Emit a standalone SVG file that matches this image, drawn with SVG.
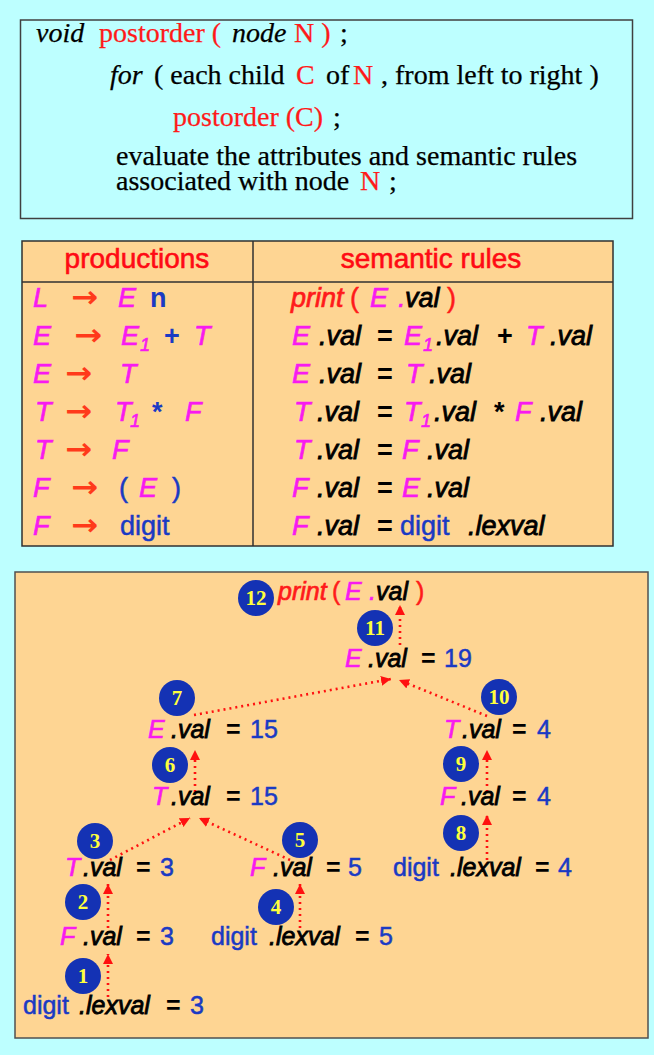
<svg xmlns="http://www.w3.org/2000/svg" width="654" height="1055" viewBox="0 0 654 1055">
<defs>
<style>
.serif{font-family:"Liberation Serif","Times New Roman",serif;font-size:28px;fill:#000;stroke:#000;stroke-width:0.25}
.serif .red{fill:#FF1A1A;stroke:#FF1A1A}
.sans{font-family:"Liberation Sans",Arial,sans-serif}
.hdr{font-size:28px;fill:#FF0A14;stroke:#FF0A14;stroke-width:0.6}
.tb{font-size:27px}
.tr{font-size:25px}
.m{fill:#F81AF0;stroke:#F81AF0;stroke-width:0.7;font-style:italic}
.k{fill:#000;stroke:#000;stroke-width:0.8;font-style:italic}
.eq{fill:#000;font-weight:bold}
.bl{fill:#1A3AC4;stroke:#1A3AC4;stroke-width:0.5}
.bb{fill:#1A3AC4;font-weight:bold}
.rd{fill:#FF1A1A;stroke:#FF1A1A;stroke-width:0.5}
.ri{fill:#FF1A1A;stroke:#FF1A1A;stroke-width:0.7;font-style:italic}
.ar{fill:#FF3A1A;font-family:"DejaVu Sans",sans-serif;font-size:30px;font-weight:bold}
.sub{font-size:18px}
.c{fill:#1432B4}
.n{font-family:"Liberation Serif","Times New Roman",serif;font-weight:bold;font-size:21px;fill:#FFFF3C;text-anchor:middle}
.dl{stroke:#FF1010;stroke-width:2.6;stroke-dasharray:2 4;fill:none;marker-end:url(#ah)}
</style>
<marker id="ah" markerUnits="userSpaceOnUse" markerWidth="12" markerHeight="12" refX="10" refY="5" orient="auto">
<path d="M0,0 L10,5 L0,10 z" fill="#FF1010"/>
</marker>
</defs>
<rect x="0" y="0" width="654" height="1055" fill="#BDFFFF"/>

<g id="algorithm">
<rect x="20.5" y="20" width="612" height="198.5" fill="#BDFFFF" stroke="#404040" stroke-width="1.5"/>
<text class="serif" y="42"><tspan x="36" font-style="italic">void</tspan><tspan class="red" x="99">postorder (</tspan><tspan x="232" font-style="italic">node</tspan><tspan class="red" x="294">N )</tspan><tspan x="340">;</tspan></text>
<text class="serif" y="84"><tspan x="110" font-style="italic">for</tspan><tspan x="154">( each child</tspan><tspan class="red" x="296">C</tspan><tspan x="326">of</tspan><tspan class="red" x="353">N</tspan><tspan x="381">, from left to right )</tspan></text>
<text class="serif" y="126"><tspan class="red" x="173">postorder (C)</tspan><tspan x="333">;</tspan></text>
<text class="serif" x="116" y="165">evaluate the attributes and semantic rules</text>
<text class="serif" y="190"><tspan x="116">associated with node</tspan><tspan class="red" x="360">N</tspan><tspan x="389">;</tspan></text>
</g>

<g id="table">
<rect x="22" y="241" width="591" height="305" fill="#FED593" stroke="#303030" stroke-width="1.5"/>
<line x1="22" y1="282" x2="613" y2="282" stroke="#303030" stroke-width="1.5"/>
<line x1="253" y1="241" x2="253" y2="546" stroke="#303030" stroke-width="1.5"/>
<text class="sans hdr" x="137" y="268" text-anchor="middle">productions</text>
<text class="sans hdr" x="431" y="268" text-anchor="middle">semantic rules</text>

<g class="sans tb">
<text y="307"><tspan class="m" x="33">L</tspan><tspan class="ar" x="71" textLength="27" lengthAdjust="spacingAndGlyphs">→</tspan><tspan class="m" x="118">E</tspan><tspan class="bb" x="150">n</tspan></text>
<text y="345"><tspan class="m" x="33">E</tspan><tspan class="ar" x="74" textLength="28" lengthAdjust="spacingAndGlyphs">→</tspan><tspan class="m" x="121">E</tspan><tspan class="m sub" x="140" dy="6">1</tspan><tspan class="bb" x="164" dy="-6">+</tspan><tspan class="m" x="194">T</tspan></text>
<text y="383"><tspan class="m" x="33">E</tspan><tspan class="ar" x="65" textLength="27" lengthAdjust="spacingAndGlyphs">→</tspan><tspan class="m" x="120">T</tspan></text>
<text y="421"><tspan class="m" x="35">T</tspan><tspan class="ar" x="65" textLength="27" lengthAdjust="spacingAndGlyphs">→</tspan><tspan class="m" x="115">T</tspan><tspan class="m sub" x="130" dy="6">1</tspan><tspan class="bb" x="152" dy="-6">*</tspan><tspan class="m" x="185">F</tspan></text>
<text y="459"><tspan class="m" x="35">T</tspan><tspan class="ar" x="65" textLength="27" lengthAdjust="spacingAndGlyphs">→</tspan><tspan class="m" x="112">F</tspan></text>
<text y="497"><tspan class="m" x="33">F</tspan><tspan class="ar" x="71" textLength="27" lengthAdjust="spacingAndGlyphs">→</tspan><tspan class="bl" x="119">(</tspan><tspan class="m" x="139">E</tspan><tspan class="bl" x="172">)</tspan></text>
<text y="535"><tspan class="m" x="33">F</tspan><tspan class="ar" x="71" textLength="27" lengthAdjust="spacingAndGlyphs">→</tspan><tspan class="bl" x="120">digit</tspan></text>

<text y="307"><tspan class="ri" x="291">print</tspan><tspan class="rd" x="350">(</tspan><tspan class="m" x="370">E</tspan><tspan class="m" x="398">.</tspan><tspan class="k" x="405">val</tspan><tspan class="rd" x="447">)</tspan></text>
<text y="345"><tspan class="m" x="292">E</tspan><tspan class="k" x="319">.val</tspan><tspan class="eq" x="377">=</tspan><tspan class="m" x="404">E</tspan><tspan class="m sub" x="423" dy="6">1</tspan><tspan class="k" x="436" dy="-6">.val</tspan><tspan class="eq" x="497">+</tspan><tspan class="m" x="526">T</tspan><tspan class="k" x="550">.val</tspan></text>
<text y="383"><tspan class="m" x="292">E</tspan><tspan class="k" x="319">.val</tspan><tspan class="eq" x="377">=</tspan><tspan class="m" x="406">T</tspan><tspan class="k" x="429">.val</tspan></text>
<text y="421"><tspan class="m" x="294">T</tspan><tspan class="k" x="317">.val</tspan><tspan class="eq" x="377">=</tspan><tspan class="m" x="404">T</tspan><tspan class="m sub" x="421" dy="6">1</tspan><tspan class="k" x="434" dy="-6">.val</tspan><tspan class="eq" x="494">*</tspan><tspan class="m" x="515">F</tspan><tspan class="k" x="540">.val</tspan></text>
<text y="459"><tspan class="m" x="294">T</tspan><tspan class="k" x="317">.val</tspan><tspan class="eq" x="377">=</tspan><tspan class="m" x="402">F</tspan><tspan class="k" x="427">.val</tspan></text>
<text y="497"><tspan class="m" x="292">F</tspan><tspan class="k" x="317">.val</tspan><tspan class="eq" x="377">=</tspan><tspan class="m" x="402">E</tspan><tspan class="k" x="427">.val</tspan></text>
<text y="535"><tspan class="m" x="292">F</tspan><tspan class="k" x="317">.val</tspan><tspan class="eq" x="377">=</tspan><tspan class="bl" x="400">digit</tspan><tspan class="k" x="468">.lexval</tspan></text>
</g>
</g>

<rect x="15" y="572" width="633" height="466" fill="#FED593" stroke="#505050" stroke-width="1.5"/>

<g id="connectors">
<line class="dl" x1="400" y1="645" x2="400" y2="605"/>
<line class="dl" x1="194" y1="715" x2="391" y2="679"/>
<line class="dl" x1="487" y1="716" x2="399" y2="680"/>
<line class="dl" x1="195" y1="792" x2="195" y2="750"/>
<line class="dl" x1="487" y1="792" x2="487" y2="750"/>
<line class="dl" x1="110" y1="860" x2="190" y2="818"/>
<line class="dl" x1="290" y1="860" x2="199" y2="818"/>
<line class="dl" x1="487" y1="860" x2="487" y2="815"/>
<line class="dl" x1="108" y1="928" x2="108" y2="884"/>
<line class="dl" x1="300" y1="928" x2="300" y2="884"/>
<line class="dl" x1="108" y1="997" x2="108" y2="954"/>
</g>

<g class="sans tr">
<g id="n12"><circle class="c" cx="256" cy="598" r="18"/><text class="n" x="256" y="605">12</text>
<text y="600"><tspan class="ri" x="278">print</tspan><tspan class="rd" x="332">(</tspan><tspan class="m" x="345">E</tspan><tspan class="m" x="369">.</tspan><tspan class="k" x="376">val</tspan><tspan class="rd" x="416">)</tspan></text></g>
<g id="n11"><circle class="c" cx="375" cy="628" r="18"/><text class="n" x="375" y="635">11</text>
<text y="667"><tspan class="m" x="345">E</tspan><tspan class="k" x="368">.val</tspan><tspan class="eq" x="421">=</tspan><tspan class="bl" x="444">19</tspan></text></g>
<g id="n7"><circle class="c" cx="177" cy="698" r="18"/><text class="n" x="177" y="705">7</text>
<text y="738"><tspan class="m" x="148">E</tspan><tspan class="k" x="171">.val</tspan><tspan class="eq" x="226">=</tspan><tspan class="bl" x="250">15</tspan></text></g>
<g id="n10"><circle class="c" cx="499" cy="697" r="18"/><text class="n" x="499" y="704">10</text>
<text y="738"><tspan class="m" x="444">T</tspan><tspan class="k" x="462">.val</tspan><tspan class="eq" x="512">=</tspan><tspan class="bl" x="537">4</tspan></text></g>
<g id="n6"><circle class="c" cx="170" cy="765" r="18"/><text class="n" x="170" y="772">6</text>
<text y="805"><tspan class="m" x="152">T</tspan><tspan class="k" x="171">.val</tspan><tspan class="eq" x="226">=</tspan><tspan class="bl" x="250">15</tspan></text></g>
<g id="n9"><circle class="c" cx="461" cy="764" r="18"/><text class="n" x="461" y="771">9</text>
<text y="805"><tspan class="m" x="440">F</tspan><tspan class="k" x="461">.val</tspan><tspan class="eq" x="512">=</tspan><tspan class="bl" x="537">4</tspan></text></g>
<g id="n3"><circle class="c" cx="95" cy="841" r="18"/><text class="n" x="95" y="848">3</text>
<text y="876"><tspan class="m" x="65">T</tspan><tspan class="k" x="83">.val</tspan><tspan class="eq" x="136">=</tspan><tspan class="bl" x="160">3</tspan></text></g>
<g id="n5"><circle class="c" cx="300" cy="840" r="18"/><text class="n" x="300" y="847">5</text>
<text y="876"><tspan class="m" x="250">F</tspan><tspan class="k" x="273">.val</tspan><tspan class="eq" x="326">=</tspan><tspan class="bl" x="348">5</tspan></text></g>
<g id="n8"><circle class="c" cx="461" cy="833" r="18"/><text class="n" x="461" y="840">8</text>
<text y="876"><tspan class="bl" x="393">digit</tspan><tspan class="k" x="450">.lexval</tspan><tspan class="eq" x="535">=</tspan><tspan class="bl" x="558">4</tspan></text></g>
<g id="n2"><circle class="c" cx="83" cy="902" r="18"/><text class="n" x="83" y="909">2</text>
<text y="945"><tspan class="m" x="60">F</tspan><tspan class="k" x="83">.val</tspan><tspan class="eq" x="136">=</tspan><tspan class="bl" x="160">3</tspan></text></g>
<g id="n4"><circle class="c" cx="276" cy="907" r="18"/><text class="n" x="276" y="914">4</text>
<text y="945"><tspan class="bl" x="211">digit</tspan><tspan class="k" x="269">.lexval</tspan><tspan class="eq" x="355">=</tspan><tspan class="bl" x="379">5</tspan></text></g>
<g id="n1"><circle class="c" cx="83" cy="976" r="18"/><text class="n" x="83" y="983">1</text>
<text y="1014"><tspan class="bl" x="23">digit</tspan><tspan class="k" x="79">.lexval</tspan><tspan class="eq" x="166">=</tspan><tspan class="bl" x="190">3</tspan></text></g>
</g>
</svg>
